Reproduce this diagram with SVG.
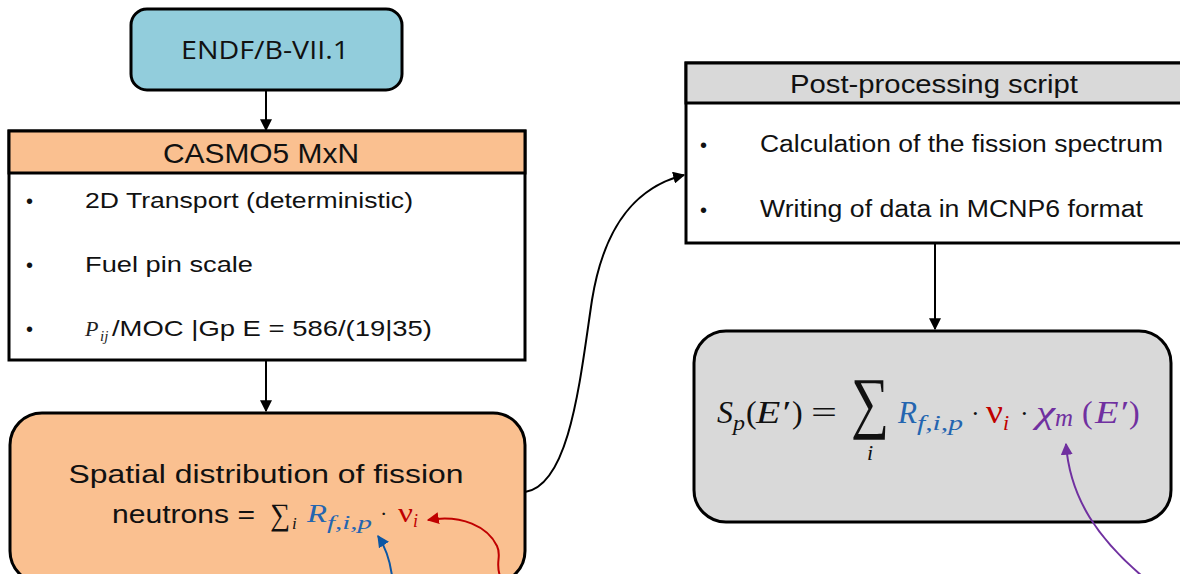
<svg xmlns="http://www.w3.org/2000/svg" width="1180" height="574" viewBox="0 0 1180 574">
<style>
.box{stroke:#000;stroke-width:3}
.sans{font-family:"Liberation Sans",Arial,sans-serif;fill:#111}
.math{font-family:"Liberation Serif","DejaVu Serif",serif;font-style:italic}
.up{font-family:"Liberation Serif","DejaVu Serif",serif}
.conn{fill:none;stroke-width:2}
.blue{fill:#2465B0}
.red{fill:#C00000}
.purple{fill:#7030A0}
.k{fill:#111}
</style>
<defs>
<marker id="ab" viewBox="0 0 10 10" refX="9" refY="5" markerWidth="6" markerHeight="6" orient="auto" markerUnits="strokeWidth"><path d="M0,0 L10,5 L0,10 z" fill="#000"/></marker>
<marker id="abl" viewBox="0 0 10 10" refX="9" refY="5" markerWidth="6" markerHeight="6" orient="auto" markerUnits="strokeWidth"><path d="M0,0 L10,5 L0,10 z" fill="#0B56A4"/></marker>
<marker id="ar" viewBox="0 0 10 10" refX="9" refY="5" markerWidth="6" markerHeight="6" orient="auto" markerUnits="strokeWidth"><path d="M0,0 L10,5 L0,10 z" fill="#C00000"/></marker>
<marker id="ap" viewBox="0 0 10 10" refX="9" refY="5" markerWidth="6" markerHeight="6" orient="auto" markerUnits="strokeWidth"><path d="M0,0 L10,5 L0,10 z" fill="#7030A0"/></marker>
</defs>
<rect width="1180" height="574" fill="#fff"/>

<g id="endf">
<rect class="box" x="131" y="9" width="271" height="81" rx="16" fill="#92CDDC"/>
<text x="265" y="59" text-anchor="middle" font-family="'Open Sans','Noto Sans',sans-serif" font-size="25" fill="#111" textLength="168" lengthAdjust="spacingAndGlyphs">ENDF/B-VII.1</text>
</g>

<g id="casmo">
<rect class="box" x="9" y="131" width="516" height="229" fill="#fff"/>
<rect class="box" x="9" y="131" width="516" height="42" fill="#FAC090"/>
<text class="sans" x="261" y="163" text-anchor="middle" font-size="28" textLength="196" lengthAdjust="spacingAndGlyphs">CASMO5 MxN</text>
<text class="sans" x="26" y="208" font-size="20">•</text>
<text class="sans" x="85" y="208" font-size="22" textLength="328" lengthAdjust="spacingAndGlyphs">2D Transport (deterministic)</text>
<text class="sans" x="26" y="272" font-size="20">•</text>
<text class="sans" x="85" y="272" font-size="22" textLength="168" lengthAdjust="spacingAndGlyphs">Fuel pin scale</text>
<text class="sans" x="26" y="336" font-size="20">•</text>
<text class="math" x="85" y="336" font-size="22" fill="#222">P</text>
<text class="math" x="100" y="341" font-size="15" fill="#222">ij</text>
<text class="sans" x="112" y="336" font-size="22" textLength="320" lengthAdjust="spacingAndGlyphs">/MOC |Gp E = 586/(19|35)</text>
</g>

<g id="spatial">
<rect class="box" x="10" y="413" width="515" height="170" rx="32" fill="#FAC090"/>
<text class="sans" x="266" y="483" text-anchor="middle" font-size="25" textLength="395" lengthAdjust="spacingAndGlyphs">Spatial distribution of fission</text>
<text class="sans" x="112" y="523" font-size="25" textLength="143" lengthAdjust="spacingAndGlyphs">neutrons =</text>
<text class="up k" x="270" y="525" font-size="31" textLength="20" lengthAdjust="spacingAndGlyphs">∑</text>
<text class="math k" x="292" y="529" font-size="17">i</text>
<text class="math blue" x="307" y="522" font-size="26" textLength="20" lengthAdjust="spacingAndGlyphs">R</text>
<text class="math blue" x="327" y="529" font-size="19" textLength="45" lengthAdjust="spacingAndGlyphs">f,i,p</text>
<text class="up k" x="380" y="521" font-size="22">·</text>
<text class="up red" x="398" y="522" font-size="28" textLength="15" lengthAdjust="spacingAndGlyphs">ν</text>
<text class="math red" x="413" y="527" font-size="18">i</text>
</g>

<g id="postproc">
<rect class="box" x="686" y="63" width="510" height="180" fill="#fff"/>
<rect class="box" x="686" y="63" width="510" height="40" fill="#D9D9D9"/>
<text class="sans" x="934" y="93" text-anchor="middle" font-size="26" textLength="288" lengthAdjust="spacingAndGlyphs">Post-processing script</text>
<text class="sans" x="700" y="152" font-size="20">•</text>
<text class="sans" x="760" y="152" font-size="23" textLength="403" lengthAdjust="spacingAndGlyphs">Calculation of the fission spectrum</text>
<text class="sans" x="700" y="217" font-size="20">•</text>
<text class="sans" x="760" y="217" font-size="23" textLength="383" lengthAdjust="spacingAndGlyphs">Writing of data in MCNP6 format</text>
</g>

<g id="source">
<rect class="box" x="694" y="331" width="477" height="191" rx="32" fill="#D9D9D9"/>
<text class="math k" x="717" y="423" font-size="32" textLength="16" lengthAdjust="spacingAndGlyphs">S</text>
<text class="math k" x="733" y="430" font-size="22" textLength="12" lengthAdjust="spacingAndGlyphs">p</text>
<text class="up k" x="746" y="423" font-size="32">(</text>
<text class="math k" x="756" y="423" font-size="32" textLength="33" lengthAdjust="spacingAndGlyphs">E′</text>
<text class="up k" x="792" y="423" font-size="32">)</text>
<text class="up k" x="811" y="423" font-size="32" textLength="26" lengthAdjust="spacingAndGlyphs">=</text>
<text class="up k" x="851" y="425" font-size="68" textLength="38" lengthAdjust="spacingAndGlyphs">∑</text>
<text class="math k" x="867" y="460" font-size="22">i</text>
<text class="math blue" x="898" y="423" font-size="32" textLength="19" lengthAdjust="spacingAndGlyphs">R</text>
<text class="math blue" x="917" y="430" font-size="22" textLength="46" lengthAdjust="spacingAndGlyphs">f,i,p</text>
<text class="up k" x="971" y="422" font-size="26">·</text>
<text class="up red" x="986" y="423" font-size="34" textLength="17" lengthAdjust="spacingAndGlyphs">ν</text>
<text class="math red" x="1003" y="430" font-size="22">i</text>
<text class="up k" x="1020" y="422" font-size="26">·</text>
<text class="math purple" x="1036" y="423" font-size="32" textLength="19" lengthAdjust="spacingAndGlyphs">χ</text>
<text class="math purple" x="1055" y="426" font-size="25" textLength="18" lengthAdjust="spacingAndGlyphs">m</text>
<text class="up purple" x="1082" y="423" font-size="32">(</text>
<text class="math purple" x="1095" y="423" font-size="32" textLength="32" lengthAdjust="spacingAndGlyphs">E′</text>
<text class="up purple" x="1129" y="423" font-size="32">)</text>
</g>

<g id="connectors">
<path class="conn" stroke="#000" d="M266,90 L266,130" marker-end="url(#ab)"/>
<path class="conn" stroke="#000" d="M266,360 L266,411" marker-end="url(#ab)"/>
<path class="conn" stroke="#000" d="M935,243 L935,329" marker-end="url(#ab)"/>
<path class="conn" stroke="#000" d="M525,492 C570,485 580,380 592,300 C605,220 640,186 684,175" marker-end="url(#ab)"/>
<path class="conn" stroke="#0B56A4" stroke-width="2.5" d="M392,576 C390,560 386,548 378,536" marker-end="url(#abl)"/>
<path class="conn" stroke="#C00000" stroke-width="2.5" d="M500,576 C495,562 502,556 497,546 C488,527 462,514 428,520" marker-end="url(#ar)"/>
<path class="conn" stroke="#7030A0" stroke-width="2.5" d="M1142,576 C1100,540 1070,500 1066,444" marker-end="url(#ap)"/>
</g>
</svg>
